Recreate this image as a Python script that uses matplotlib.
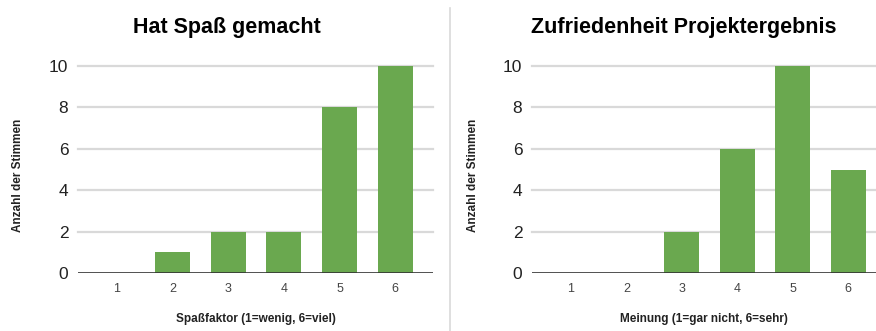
import matplotlib
matplotlib.use("Agg")
import matplotlib.pyplot as plt
from matplotlib.lines import Line2D

plt.rcParams['font.family'] = ['Liberation Sans', 'DejaVu Sans']

# Umfragedaten
kategorien = [1, 2, 3, 4, 5, 6]
spass = [0, 1, 2, 2, 8, 10]
zufriedenheit = [0, 0, 2, 6, 10, 5]
y_ticks = [0, 2, 4, 6, 8, 10]

gruen = '#6aa84f'
W, H = 876, 331

fig = plt.figure(figsize=(W / 100, H / 100), dpi=100)


def panel(x0, x1, xmax, werte, titel, xlabel, titel_x):
    ax = fig.add_axes([x0 / W, (H - 273) / H, (x1 - x0) / W, (273 - 66) / H])
    ax.bar(kategorien, werte, width=0.63, color=gruen, zorder=3)
    ax.set_xlim(0.3, xmax)
    ax.set_ylim(0, 10)
    ax.set_yticks(y_ticks)
    ax.set_xticks(kategorien)
    for y in y_ticks[1:]:
        ax.axhline(y, color='#d9d9d9', lw=1.6, zorder=1, clip_on=False)
    ax.axhline(0, color='#333333', lw=1.2, zorder=4)
    for s in ax.spines.values():
        s.set_visible(False)
    ax.tick_params(axis='both', length=0)
    ax.tick_params(axis='y', labelsize=12.5, labelcolor='#222222', pad=7)
    ax.tick_params(axis='x', labelsize=9, labelcolor='#444444', pad=7)
    ax.set_xlabel(xlabel, fontsize=8.5, fontweight='bold', color='#222222', labelpad=13)
    fig.text(titel_x / W, 1 - 28 / H, titel, fontsize=15.5, fontweight='bold',
             ha='center', va='center', color='#000000')
    return ax


ax1 = panel(78, 433, 6.68, spass, 'Hat Spaß gemacht',
            'Spaßfaktor (1=wenig, 6=viel)', 227)
ax2 = panel(532, 876, 6.5, zufriedenheit, 'Zufriedenheit Projektergebnis',
            'Meinung (1=gar nicht, 6=sehr)', 684)

fig.text(18 / W, 1 - 175 / H, 'Anzahl der Stimmen', rotation=90, fontsize=8.5,
         fontweight='bold', ha='center', va='center', color='#222222')
fig.text(473 / W, 1 - 175 / H, 'Anzahl der Stimmen', rotation=90, fontsize=8.5,
         fontweight='bold', ha='center', va='center', color='#222222')

# Trennlinie zwischen den Diagrammen
fig.add_artist(Line2D([450 / W, 450 / W], [0, 1 - 8 / H], color='#d9d9d9', lw=1.2))

fig.savefig('out.png', dpi=100)
